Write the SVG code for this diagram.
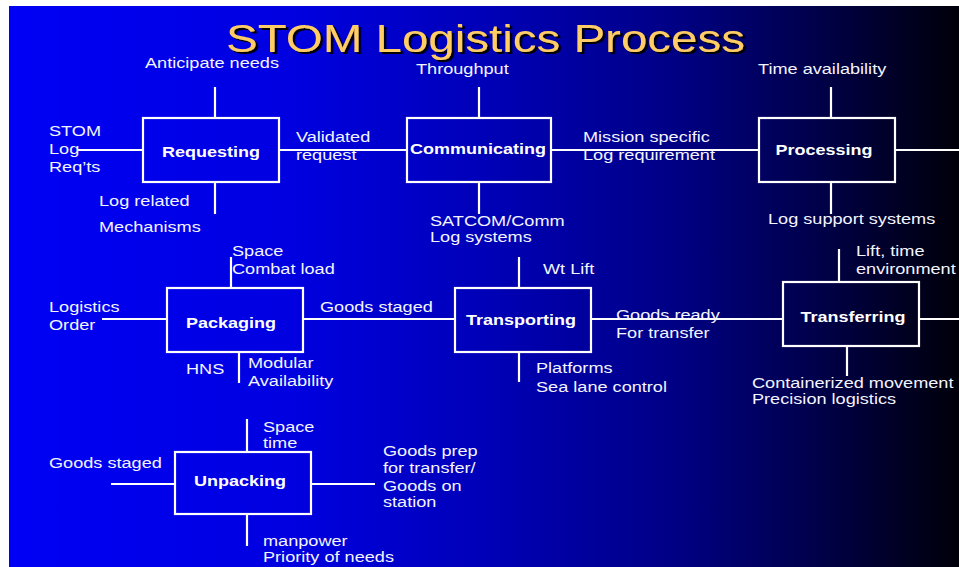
<svg xmlns="http://www.w3.org/2000/svg" width="959" height="567" viewBox="0 0 959 567">
  <defs>
    <linearGradient id="bg" gradientUnits="userSpaceOnUse" x1="9" y1="0" x2="959" y2="0">
      <stop offset="0" stop-color="#0000F5"/>
      <stop offset="0.3" stop-color="#0000E0"/>
      <stop offset="0.5" stop-color="#0000B8"/>
      <stop offset="0.7" stop-color="#000085"/>
      <stop offset="0.85" stop-color="#00004A"/>
      <stop offset="1" stop-color="#00000A"/>
    </linearGradient>
    <filter id="shadow" x="-5%" y="-20%" width="110%" height="140%">
      <feDropShadow dx="2" dy="2" stdDeviation="0.3" flood-color="#000000" flood-opacity="1"/>
    </filter>
    <style>
      .box { fill: none; stroke: #ffffff; stroke-width: 2.2; }
      .wire { stroke: #ffffff; stroke-width: 2.2; fill: none; }
      .name { font-family: "Liberation Sans", Arial, sans-serif; font-weight: bold; font-size: 15px; fill: #ffffff; text-anchor: middle; }
      .lbl { font-family: "Liberation Sans", Arial, sans-serif; font-size: 15px; fill: #F4F4FF; }
      .title { font-family: "Liberation Sans", Arial, sans-serif; font-size: 38px; fill: #FFCC66; }
    </style>
  </defs>

  <!-- page and slide background -->
  <rect x="0" y="0" width="959" height="567" fill="#ffffff"/>
  <rect x="9" y="6" width="950" height="561" fill="url(#bg)"/>

  <!-- heading with drop shadow -->
  <g id="title">
    <text class="title" filter="url(#shadow)" transform="translate(226 52) scale(1.25 1)">STOM Logistics Process</text>
  </g>

  <!-- connectors and stubs -->
  <g id="connectors" class="wire">
    <!-- Requesting -->
    <line x1="215" y1="87" x2="215" y2="118"/>
    <line x1="78" y1="150" x2="143" y2="150"/>
    <line x1="215" y1="182" x2="215" y2="214"/>
    <line x1="279" y1="150" x2="407" y2="150"/>
    <!-- Communicating -->
    <line x1="479" y1="87" x2="479" y2="118"/>
    <line x1="479" y1="182" x2="479" y2="214"/>
    <line x1="551" y1="150" x2="759" y2="150"/>
    <!-- Processing -->
    <line x1="831" y1="87" x2="831" y2="118"/>
    <line x1="831" y1="182" x2="831" y2="214"/>
    <line x1="895" y1="150" x2="959" y2="150"/>
    <!-- Packaging -->
    <line x1="231" y1="257" x2="231" y2="288"/>
    <line x1="102" y1="319" x2="167" y2="319"/>
    <line x1="239" y1="352" x2="239" y2="383"/>
    <line x1="303" y1="319" x2="455" y2="319"/>
    <!-- Transporting -->
    <line x1="519" y1="257" x2="519" y2="288"/>
    <line x1="519" y1="352" x2="519" y2="382"/>
    <line x1="591" y1="319" x2="783" y2="319"/>
    <!-- Transferring -->
    <line x1="839" y1="249" x2="839" y2="282"/>
    <line x1="847" y1="346" x2="847" y2="376"/>
    <line x1="919" y1="319" x2="959" y2="319"/>
    <!-- Unpacking -->
    <line x1="247" y1="419" x2="247" y2="452"/>
    <line x1="111" y1="484" x2="175" y2="484"/>
    <line x1="247" y1="514" x2="247" y2="546"/>
    <line x1="311" y1="484" x2="375" y2="484"/>
  </g>

  <!-- process steps -->
  <g id="requesting">
    <rect class="box" x="143" y="118" width="136" height="64"/>
    <text class="name" transform="translate(211 157) scale(1.2 1)">Requesting</text>
  </g>
  <g id="communicating">
    <rect class="box" x="407" y="118" width="144" height="64"/>
    <text class="name" transform="translate(478 154) scale(1.2 1)">Communicating</text>
  </g>
  <g id="processing">
    <rect class="box" x="759" y="118" width="136" height="64"/>
    <text class="name" transform="translate(824 155) scale(1.2 1)">Processing</text>
  </g>
  <g id="packaging">
    <rect class="box" x="167" y="288" width="136" height="64"/>
    <text class="name" transform="translate(231 328) scale(1.2 1)">Packaging</text>
  </g>
  <g id="transporting">
    <rect class="box" x="455" y="288" width="136" height="64"/>
    <text class="name" transform="translate(521 325) scale(1.2 1)">Transporting</text>
  </g>
  <g id="transferring">
    <rect class="box" x="783" y="282" width="136" height="64"/>
    <text class="name" transform="translate(853 322) scale(1.2 1)">Transferring</text>
  </g>
  <g id="unpacking">
    <rect class="box" x="175" y="452" width="136" height="62"/>
    <text class="name" transform="translate(240 486) scale(1.2 1)">Unpacking</text>
  </g>

  <!-- stub annotations -->
  <g id="labels" class="lbl">
    <text transform="translate(145 68) scale(1.21 1)">Anticipate needs</text>
    <text transform="translate(416 74) scale(1.21 1)">Throughput</text>
    <text transform="translate(758 74) scale(1.21 1)">Time availability</text>
    <text transform="translate(49 0) scale(1.21 1)"><tspan x="0" y="136">STOM</tspan><tspan x="0" y="154">Log</tspan><tspan x="0" y="172">Req’ts</tspan></text>
    <text transform="translate(296 0) scale(1.21 1)"><tspan x="0" y="142">Validated</tspan><tspan x="0" y="160">request</tspan></text>
    <text transform="translate(583 0) scale(1.21 1)"><tspan x="0" y="142">Mission specific</tspan><tspan x="0" y="160">Log requirement</tspan></text>
    <text transform="translate(99 206) scale(1.21 1)">Log related</text>
    <text transform="translate(99 232) scale(1.21 1)">Mechanisms</text>
    <text transform="translate(430 0) scale(1.21 1)"><tspan x="0" y="226">SATCOM/Comm</tspan><tspan x="0" y="242">Log systems</tspan></text>
    <text transform="translate(768 224) scale(1.21 1)">Log support systems</text>

    <text transform="translate(232 0) scale(1.21 1)"><tspan x="0" y="256">Space</tspan><tspan x="0" y="274">Combat load</tspan></text>
    <text transform="translate(49 0) scale(1.21 1)"><tspan x="0" y="312">Logistics</tspan><tspan x="0" y="330">Order</tspan></text>
    <text transform="translate(320 312) scale(1.21 1)">Goods staged</text>
    <text transform="translate(186 374) scale(1.21 1)">HNS</text>
    <text transform="translate(248 0) scale(1.21 1)"><tspan x="0" y="368">Modular</tspan><tspan x="0" y="386">Availability</tspan></text>
    <text transform="translate(543 274) scale(1.21 1)">Wt Lift</text>
    <text transform="translate(616 0) scale(1.21 1)"><tspan x="0" y="320">Goods ready</tspan><tspan x="0" y="338">For transfer</tspan></text>
    <text transform="translate(536 0) scale(1.21 1)"><tspan x="0" y="373">Platforms</tspan><tspan x="0" y="392">Sea lane control</tspan></text>
    <text transform="translate(856 0) scale(1.21 1)"><tspan x="0" y="256">Lift, time</tspan><tspan x="0" y="274">environment</tspan></text>
    <text transform="translate(752 0) scale(1.21 1)"><tspan x="0" y="388">Containerized movement</tspan><tspan x="0" y="404">Precision logistics</tspan></text>

    <text transform="translate(263 0) scale(1.21 1)"><tspan x="0" y="432">Space</tspan><tspan x="0" y="448">time</tspan></text>
    <text transform="translate(49 468) scale(1.21 1)">Goods staged</text>
    <text transform="translate(383 0) scale(1.21 1)"><tspan x="0" y="456">Goods prep</tspan><tspan x="0" y="473">for transfer/</tspan><tspan x="0" y="491">Goods on</tspan><tspan x="0" y="507">station</tspan></text>
    <text transform="translate(263 0) scale(1.21 1)"><tspan x="0" y="546">manpower</tspan><tspan x="0" y="562">Priority of needs</tspan></text>
  </g>
</svg>
